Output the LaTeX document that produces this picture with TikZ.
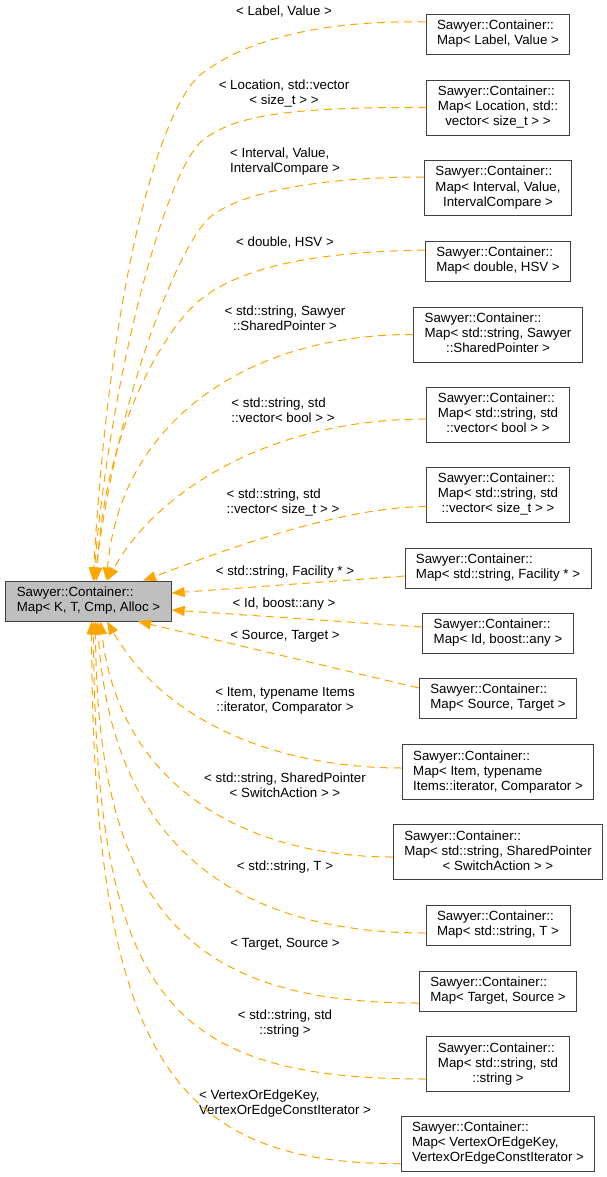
\documentclass[tikz,border=0pt]{standalone}
\usepackage{fontspec}
\setmainfont{Liberation Sans}
\usetikzlibrary{calc,arrows.meta}

\definecolor{inhorange}{HTML}{FFA500}
\definecolor{basegray}{HTML}{BFBFBF}
\definecolor{boxline}{HTML}{404040}

% box text: left lines, then a centred last line
\newcommand{\maptext}[2]{\begin{tabular}{@{}l@{}}#1\\\multicolumn{1}{@{}c@{}}{#2}\end{tabular}}

\begin{document}
\begin{tikzpicture}[x=1pt,y=-1pt,
  font=\fontsize{13.3}{15}\selectfont,
  cls/.style={draw=boxline, line width=0.9pt, fill=white, inner xsep=11pt, inner ysep=5pt},
  tparam/.style={inner sep=0pt},
  inh/.style={inhorange, line width=1pt, dash pattern=on 8pt off 5.5pt,
    -{Triangle[length=13pt,width=10pt]}}]
   \useasboundingbox (0,0) rectangle (607,1177);

   \node[cls, fill=basegray] (mapbase) at (88.5,601) {\begin{tabular}{@{}l@{}}Sawyer::Container::\\Map< K, T, Cmp, Alloc >\end{tabular}};

   \node[cls] (lv)     at (498,34.5)  {\maptext{Sawyer::Container::}{Map< Label, Value >}};
   \node[cls] (loc)    at (498,107.5) {\maptext{Sawyer::Container::\\Map< Location, std::}{vector< size\_t > >}};
   \node[cls] (ivl)    at (498,188)   {\maptext{Sawyer::Container::\\Map< Interval, Value,}{IntervalCompare >}};
   \node[cls] (hsv)    at (498,261)   {\maptext{Sawyer::Container::}{Map< double, HSV >}};
   \node[cls] (shp)    at (498,334.5) {\maptext{Sawyer::Container::\\Map< std::string, Sawyer}{::SharedPointer >}};
   \node[cls] (vbool)  at (498,414.5) {\maptext{Sawyer::Container::\\Map< std::string, std}{::vector< bool > >}};
   \node[cls] (vsize)  at (498,494.5) {\maptext{Sawyer::Container::\\Map< std::string, std}{::vector< size\_t > >}};
   \node[cls] (fac)    at (498,568)   {\maptext{Sawyer::Container::}{Map< std::string, Facility * >}};
   \node[cls] (idany)  at (498,633)   {\maptext{Sawyer::Container::}{Map< Id, boost::any >}};
   \node[cls] (srctgt) at (498,698)   {\maptext{Sawyer::Container::}{Map< Source, Target >}};
   \node[cls] (item)   at (498,772)   {\maptext{Sawyer::Container::\\Map< Item, typename}{Items::iterator, Comparator >}};
   \node[cls] (swact)  at (498,852)   {\maptext{Sawyer::Container::\\Map< std::string, SharedPointer}{< SwitchAction > >}};
   \node[cls] (strT)   at (498,925)   {\maptext{Sawyer::Container::}{Map< std::string, T >}};
   \node[cls] (tgtsrc) at (498,991)   {\maptext{Sawyer::Container::}{Map< Target, Source >}};
   \node[cls] (strstr) at (498,1064)  {\maptext{Sawyer::Container::\\Map< std::string, std}{::string >}};
   \node[cls] (vertex) at (498,1143.5){\maptext{Sawyer::Container::\\Map< VertexOrEdgeKey,}{VertexOrEdgeConstIterator >}};

   \node[tparam] (lv-t)     at (284,12)   {< Label, Value >};
   \node[tparam] (loc-t)    at (284,94)   {\maptext{< Location, std::vector}{< size\_t > >}};
   \node[tparam] (ivl-t)    at (285,162)  {\maptext{< Interval, Value,}{IntervalCompare >}};
   \node[tparam] (hsv-t)    at (285,243)  {< double, HSV >};
   \node[tparam] (shp-t)    at (285,320)  {\maptext{< std::string, Sawyer}{::SharedPointer >}};
   \node[tparam] (vbool-t)  at (283,412)  {\maptext{< std::string, std}{::vector< bool > >}};
   \node[tparam] (vsize-t)  at (283,503)  {\maptext{< std::string, std}{::vector< size\_t > >}};
   \node[tparam] (fac-t)    at (285,572)  {< std::string, Facility * >};
   \node[tparam] (idany-t)  at (284,604)  {< Id, boost::any >};
   \node[tparam] (srctgt-t) at (285,636)  {< Source, Target >};
   \node[tparam] (item-t)   at (285,701)  {\maptext{< Item, typename Items}{::iterator, Comparator >}};
   \node[tparam] (swact-t)  at (285,787)  {\maptext{< std::string, SharedPointer}{< SwitchAction > >}};
   \node[tparam] (strT-t)   at (285,867)  {< std::string, T >};
   \node[tparam] (tgtsrc-t) at (285,944)  {< Target, Source >};
   \node[tparam] (strstr-t) at (285,1024) {\maptext{< std::string, std}{::string >}};
   \node[tparam] (vertex-t) at (285,1104) {\maptext{< VertexOrEdgeKey,}{VertexOrEdgeConstIterator >}};

   % into the top of the base
   \draw[inh] ($(lv.west)+(0,-12.5)$) .. controls (320,20) and (245,40) .. (200,75)
      .. controls (160,110) and (110,280) .. ($(mapbase.north)+(4.5,0)$);
   \draw[inh] (loc.west) .. controls (290,107) and (235,115) .. (203,140)
      .. controls (165,170) and (110,380) .. ($(mapbase.north)+(5,0)$);
   \draw[inh] ($(ivl.west)+(0,-11)$) .. controls (310,177) and (232,195) .. (207,220)
      .. controls (182,245) and (120,380) .. ($(mapbase.north)+(6,0)$);
   \draw[inh] ($(hsv.west)+(0,-11)$) .. controls (310,252) and (240,268) .. (200,300)
      .. controls (170,324) and (105,420) .. ($(mapbase.north)+(8,0)$);
   \draw[inh] (shp.west) .. controls (250,334) and (120,420) .. ($(mapbase.north)+(18,0)$);
   \draw[inh] ($(vbool.west)+(0,4.5)$) .. controls (260,419) and (150,500) .. ($(mapbase.north)+(19,0)$);
   \draw[inh] ($(vsize.west)+(0,12)$) .. controls (330,507) and (200,560) .. ($(mapbase.north)+(54.5,0)$);

   % into the side
   \draw[inh] ($(fac.west)+(0,8)$) -- ($(mapbase.east)+(0,-8)$);
   \draw[inh] ($(idany.west)+(0,-6)$) -- ($(mapbase.east)+(0,9)$);

   % into the bottom
   \draw[inh] ($(srctgt.west)+(0,-10)$) -- ($(mapbase.south)+(49.5,0)$);
   \draw[inh] ($(item.west)+(0,-4)$) .. controls (290,768) and (170,730) .. ($(mapbase.south)+(18.5,0)$);
   \draw[inh] ($(swact.west)+(0,5)$) .. controls (250,857) and (120,790) .. ($(mapbase.south)+(12,0)$);
   \draw[inh] ($(strT.west)+(0,8)$) .. controls (220,933) and (110,830) .. ($(mapbase.south)+(9,0)$);
   \draw[inh] ($(tgtsrc.west)+(0,12)$) .. controls (200,1003) and (97,920) .. ($(mapbase.south)+(7,0)$);
   \draw[inh] ($(strstr.west)+(0,15)$) .. controls (170,1079) and (95,1000) .. ($(mapbase.south)+(5,0)$);
   \draw[inh] ($(vertex.west)+(0,20)$) .. controls (170,1165) and (93,1050) .. ($(mapbase.south)+(3,0)$);
\end{tikzpicture}
\end{document}
